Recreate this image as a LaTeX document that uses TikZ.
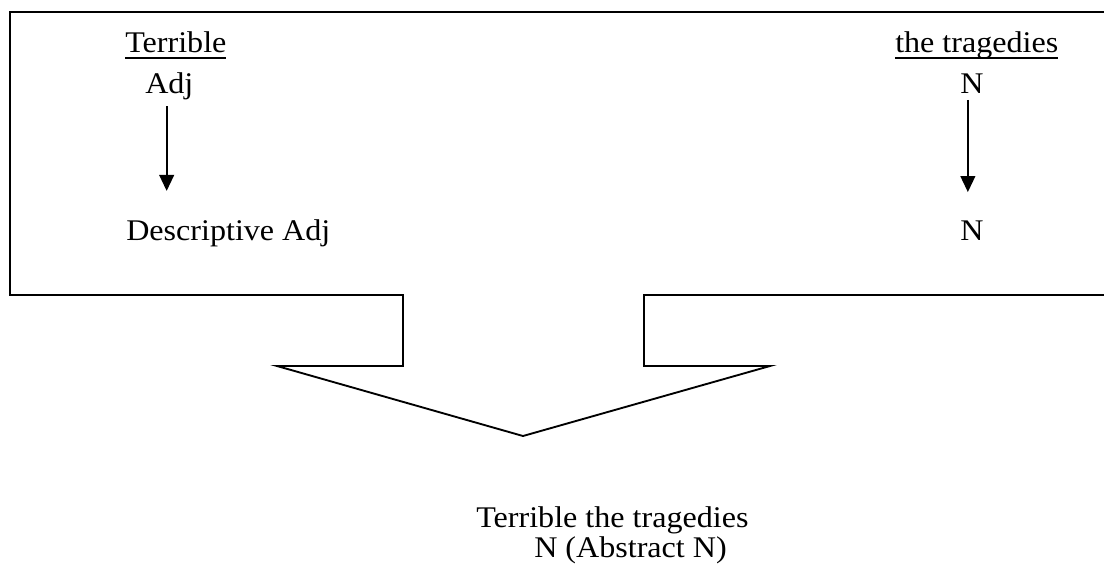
\documentclass[tikz,border=0pt]{standalone}
\usepackage{fontspec}
\setmainfont{Liberation Serif}[FakeStretch=1.07]
\usetikzlibrary{arrows.meta}
\newcommand\myul[1]{\setbox0\hbox{#1}\rlap{\rule[-5pt]{\wd0}{1.2pt}}\box0}
\tikzset{
  lbl/.style={anchor=base west, inner sep=0pt, font=\fontsize{22.5pt}{27pt}\selectfont},
  arr/.style={line width=1.5pt, -{Triangle[width=11pt,length=12pt]}},
  outline/.style={line width=1.4pt, line join=miter}
}
\begin{document}
\begin{tikzpicture}[x=0.75pt,y=-0.75pt]
\useasboundingbox (0,0) rectangle (1104,569);
% box with arrow
\draw[outline] (1120,12) -- (10,12) -- (10,295) -- (403,295) -- (403,366) -- (277,366)
  -- (523,436) -- (770,366) -- (644,366) -- (644,295) -- (1120,295);
% left column
\node[lbl] (terr) at (125,52) {\myul{Terrible}};
\node[lbl] (adj) at (145,93) {Adj};
\node[lbl] (desc) at (126,240) {Descriptive Adj};
% right column
\node[lbl] (trag) at (895,52) {\myul{the tragedies}};
\node[lbl] (n1) at (960,93) {N};
\node[lbl] (n2) at (960,240) {N};
% arrows
\draw[arr, shorten <=5pt, shorten >=21pt] ([xshift=-2pt]adj.south) -- ([xshift=-2pt]adj.south |- desc.north);
\draw[arr, shorten <=5pt, shorten >=21pt] ([xshift=-3pt]n1.south) -- ([xshift=-3pt]n2.north);
% result
\node[lbl] (res) at (476,527) {Terrible the tragedies};
\node[lbl] (resn) at (534,557) {N (Abstract N)};
\end{tikzpicture}
\end{document}
